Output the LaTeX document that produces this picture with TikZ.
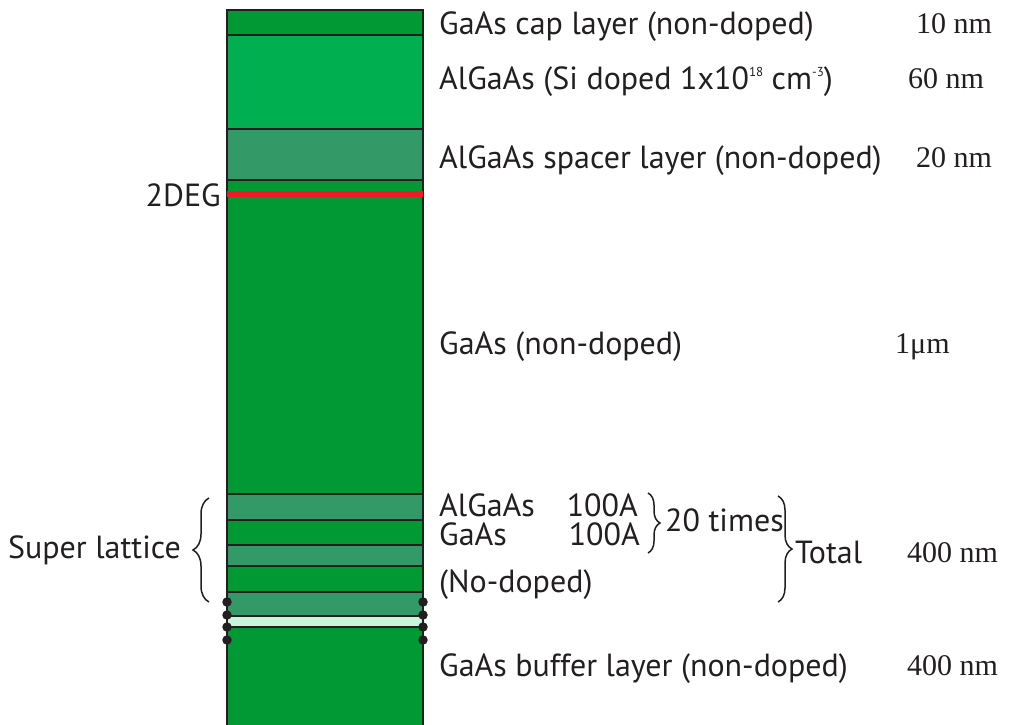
\documentclass[tikz,border=0pt]{standalone}
\usepackage{fontspec}
\setmainfont{PT Sans}
\newfontfamily\numfont{Liberation Serif}
\usetikzlibrary{positioning,decorations.pathreplacing}
\definecolor{gaasgreen}{HTML}{009933}
\definecolor{dopedgreen}{HTML}{00B050}
\definecolor{spacergreen}{HTML}{339966}
\definecolor{mintgreen}{HTML}{C8F5DC}
\definecolor{degred}{HTML}{ED1C24}
\definecolor{edgegray}{HTML}{231F20}
\newcommand{\tinysup}[1]{\raisebox{13pt}{\fontsize{13}{13}\selectfont #1}}

\begin{document}
\begin{tikzpicture}[x=1pt,y=1pt,
  layer/.style={draw=edgegray,line width=1.4pt,minimum width=196pt,inner sep=0pt,outer sep=0pt,anchor=north},
  gaas/.style={layer,fill=gaasgreen},
  algaas/.style={layer,fill=spacergreen},
  txt/.style={font=\fontsize{32}{32}\selectfont,text=edgegray,inner sep=0pt,anchor=base west},
  num/.style={font=\numfont\fontsize{30}{30}\selectfont,text=edgegray,inner sep=0pt,anchor=base west},
  dot/.style={circle,fill=edgegray,inner sep=0pt,minimum size=9.5pt},
  brace/.style={decorate,decoration={brace,amplitude=12pt},line width=1.5pt,draw=edgegray},
  node distance=0pt
]
\useasboundingbox (0,0) rectangle (1022,-724);

% layer stack
\node[gaas,minimum height=25pt] (cap) at (325,-10) {};
\node[layer,fill=dopedgreen,minimum height=94pt,below=of cap] (doped) {};
\node[algaas,minimum height=51pt,below=of doped] (spacer) {};
\node[gaas,minimum height=314pt,below=of spacer] (channel) {};
\node[fill=degred,minimum width=196pt,minimum height=6pt,inner sep=0pt,below=11pt of spacer] (deg) {};

% super lattice
\node[algaas,minimum height=26pt,below=of channel] (sla1) {};
\node[gaas,minimum height=25pt,below=of sla1] (slg1) {};
\node[algaas,minimum height=21pt,below=of slg1] (sla2) {};
\node[gaas,minimum height=26pt,below=of sla2] (slg2) {};
\node[algaas,minimum height=24pt,below=of slg2] (sla3) {};
\node[layer,fill=mintgreen,minimum height=11pt,below=of sla3] (mint) {};
\node[gaas,minimum height=110pt,below=of mint] (buffer) {};

\foreach \y [count=\i] in {602,615,627,640}{
  \node[dot] (dl\i) at (227,-\y) {};
  \node[dot] (dr\i) at (423,-\y) {};
}

% labels
\node[txt] (capt) at (439,-34) {GaAs cap layer (non-doped)};
\node[num] (capn) at (916,-33) {10 nm};
\node[txt] (dopt) at (439,-89) {AlGaAs (Si doped 1x10\tinysup{18} cm\tinysup{-3})};
\node[num] (dopn) at (908,-88) {60 nm};
\node[txt] (spat) at (439,-168) {AlGaAs spacer layer (non-doped)};
\node[num] (span) at (916,-167) {20 nm};
\node[txt,anchor=base east] (degt) at (221,-206) {2DEG};
\node[txt] (chat) at (439,-354) {GaAs (non-doped)};
\node[num] (chan) at (895,-353) {1μm};

\node[txt] (alt) at (439,-516) {AlGaAs};
\node[txt,anchor=base east] (alv) at (638,-516) {100A};
\node[txt] (gat) at (439,-545) {GaAs};
\node[txt,anchor=base east] (gav) at (640,-545) {100A};
\node[txt] (times) at (665,-531) {20 times};
\node[txt] (nod) at (439,-592) {(No-doped)};
\node[txt] (total) at (795,-563) {Total};
\node[num] (totn) at (907,-562) {400 nm};
\node[txt,anchor=base east] (slt) at (181,-558) {Super lattice};
\node[txt] (buft) at (439,-676) {GaAs buffer layer (non-doped)};
\node[num] (bufn) at (907,-675) {400 nm};

% braces
\coordinate (smtop) at (648,-493);
\coordinate (smbot) at (648,-553);
\coordinate (bgtop) at (778,-496);
\coordinate (bgbot) at (778,-602);
\coordinate (sltop) at (209,-498);
\coordinate (slbot) at (209,-602);
\draw[brace] (smtop) -- (smbot);
\draw[brace,decoration={amplitude=14pt}] (bgtop) -- (bgbot);
\draw[brace,decoration={amplitude=16pt}] (slbot) -- (sltop);
\end{tikzpicture}
\end{document}
